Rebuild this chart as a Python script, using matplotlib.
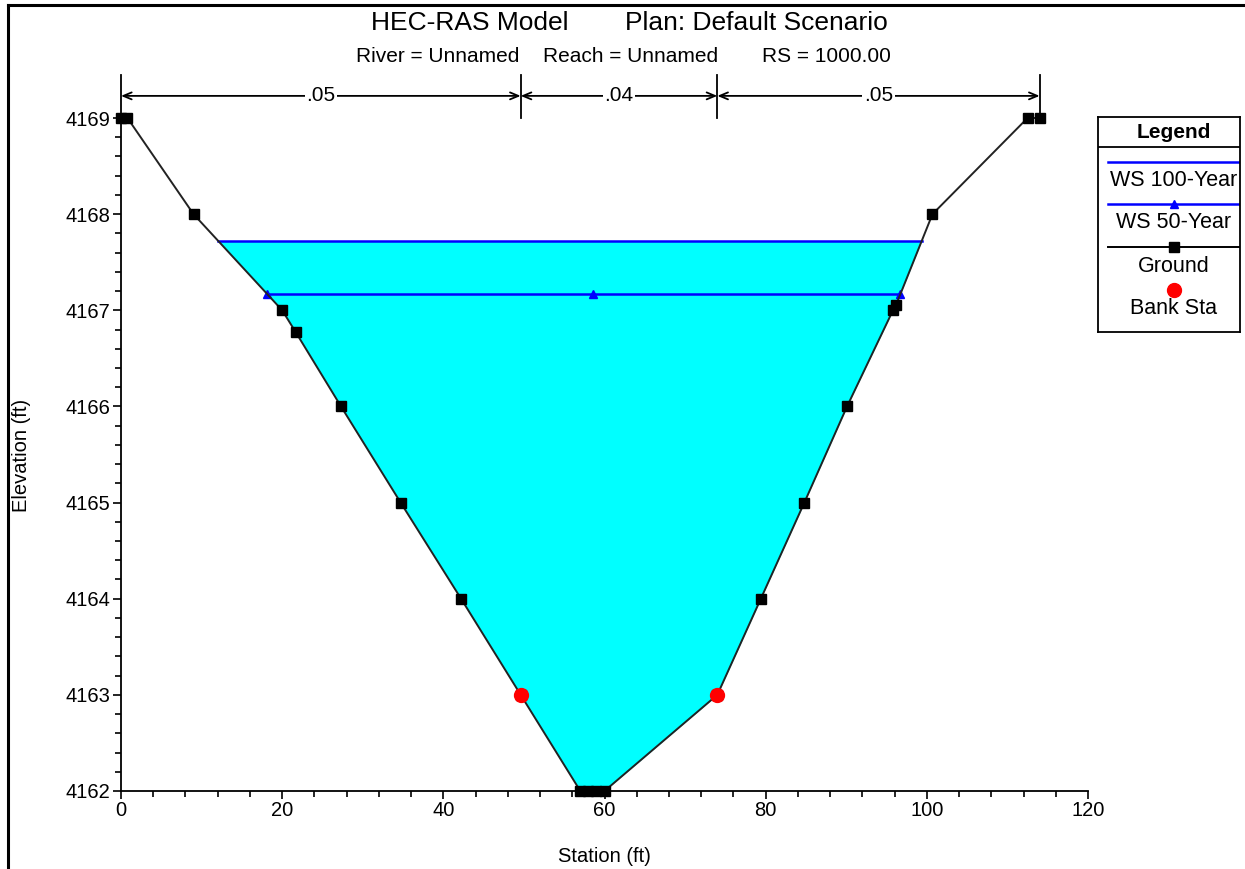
import numpy as np
import matplotlib.pyplot as plt
from matplotlib.lines import Line2D
from matplotlib.ticker import MultipleLocator

plt.rcParams['font.family'] = ['Liberation Sans', 'DejaVu Sans']

# ground profile (station ft, elevation ft)
sta = [0, 0.8, 9, 20, 21.7, 27.3, 34.7, 42.2, 49.6, 57, 58, 59, 60,
       74, 79.4, 84.8, 90.1, 95.8, 96.2, 100.7, 112.5, 114]
elev = [4169, 4169, 4168, 4167, 4166.77, 4166, 4165, 4164, 4163, 4162, 4162, 4162, 4162,
        4163, 4164, 4165, 4166, 4167, 4167.06, 4168, 4169, 4169]
bank_sta = [49.6, 74]
bank_elev = [4163, 4163]
ws100 = 4167.72
ws50 = 4167.17
ws50_marks = [18.1, 58.6, 96.7]
n_sta = [0, 49.6, 74, 114]
n_vals = ['.05', '.04', '.05']

W, H = 1245, 869
fig = plt.figure(figsize=(W / 100, H / 100), dpi=100)
ax = fig.add_axes([121 / W, (H - 791) / H, (1088 - 121) / W, (791 - 118) / H])

sta = np.array(sta)
elev = np.array(elev)
low = int(np.argmin(elev))
high = len(elev) - 1 - int(np.argmin(elev[::-1]))

def ws_edges(ws):
    left = np.interp(ws, elev[:low + 1][::-1], sta[:low + 1][::-1])
    right = np.interp(ws, elev[high:], sta[high:])
    return left, right

# water fill + surfaces
ax.fill_between(sta, elev, ws100, where=elev <= ws100, interpolate=True,
                color='#00ffff', lw=0, zorder=1)
l100, r100 = ws_edges(ws100)
ax.plot([l100, r100], [ws100, ws100], color='#0000ff', lw=1.8, zorder=2)
l50, r50 = ws_edges(ws50)
ax.plot([l50, r50], [ws50, ws50], color='#0000ff', lw=1.8, zorder=2)
ax.plot(ws50_marks, [ws50] * len(ws50_marks), ls='none', marker='^', ms=6,
        color='#0000ff', zorder=3)

# ground and bank stations
ax.plot(sta, elev, color='#222222', lw=1.4, marker='s', ms=6.5,
        mfc='black', mec='black', zorder=4, clip_on=False)
ax.plot(bank_sta, bank_elev, ls='none', marker='o', ms=10, color='#ff0000',
        zorder=5)

ax.set_xlim(0, 120)
ax.set_ylim(4162, 4169)
ax.xaxis.set_major_locator(MultipleLocator(20))
ax.xaxis.set_minor_locator(MultipleLocator(4))
ax.yaxis.set_major_locator(MultipleLocator(1))
ax.yaxis.set_minor_locator(MultipleLocator(0.2))
ax.tick_params(which='major', length=6, width=1.2, labelsize=14.5, pad=1.5)
ax.tick_params(which='minor', length=4.5, width=1.2)
ax.spines['top'].set_visible(False)
ax.spines['right'].set_visible(False)
ax.spines['left'].set_linewidth(1.3)
ax.spines['bottom'].set_linewidth(1.3)

# n-value dimension lines
y_top = 4169.45
y_arr = 4169.23
for s in n_sta:
    ax.plot([s, s], [4169, y_top], color='black', lw=1.3, clip_on=False)
for i, v in enumerate(n_vals):
    a, b = n_sta[i], n_sta[i + 1]
    ax.annotate('', xy=(a, y_arr), xytext=(b, y_arr), annotation_clip=False,
                arrowprops=dict(arrowstyle='<->,head_length=0.6,head_width=0.25',
                                color='black', lw=1.3, shrinkA=0, shrinkB=0))
    ax.text((a + b) / 2, y_arr, v, ha='center', va='center', fontsize=15,
            bbox=dict(facecolor='white', edgecolor='none', pad=1),
            clip_on=False)

# titles
fig.text(371 / W, 1 - 23 / H, 'HEC-RAS Model', ha='left', va='center', fontsize=19)
fig.text(625 / W, 1 - 23 / H, 'Plan: Default Scenario', ha='left', va='center', fontsize=19)
fig.text(356 / W, 1 - 57 / H, 'River = Unnamed', ha='left', va='center', fontsize=15)
fig.text(543 / W, 1 - 57 / H, 'Reach = Unnamed', ha='left', va='center', fontsize=15)
fig.text(762 / W, 1 - 57 / H, 'RS = 1000.00', ha='left', va='center', fontsize=15)
fig.text(604 / W, 1 - 857 / H, 'Station (ft)', ha='center', va='center', fontsize=14.5)
fig.text(22 / W, 1 - 455 / H, 'Elevation (ft)', ha='center', va='center',
         rotation=90, fontsize=14.5)

# legend box
lg = fig.add_axes([1098 / W, (H - 332) / H, (1240 - 1098) / W, (332 - 117) / H])
lg.set_xlim(0, 142)
lg.set_ylim(215, 0)
lg.set_xticks([])
lg.set_yticks([])
for sp in lg.spines.values():
    sp.set_linewidth(1.3)
lg.axhline(30, color='black', lw=1.3)
lg.text(76, 15, 'Legend', ha='center', va='center', fontsize=15, fontweight='bold')
lg.plot([10, 142], [45, 45], color='#0000ff', lw=1.8)
lg.text(76, 63, 'WS 100-Year', ha='center', va='center', fontsize=15.5)
lg.plot([10, 142], [87, 87], color='#0000ff', lw=1.8)
lg.plot([76], [87], marker='^', ms=6, color='#0000ff')
lg.text(76, 106, 'WS 50-Year', ha='center', va='center', fontsize=15.5)
lg.plot([10, 142], [130, 130], color='black', lw=1.4)
lg.plot([76], [130], marker='s', ms=6.5, color='black')
lg.text(76, 149, 'Ground', ha='center', va='center', fontsize=15.5)
lg.plot([76], [173], marker='o', ms=10, color='#ff0000')
lg.text(76, 192, 'Bank Sta', ha='center', va='center', fontsize=15.5)

# outer frame (left and top edges visible)
fig.add_artist(Line2D([8 / W, 8 / W], [0, 1 - 5 / H], color='black', lw=2.2))
fig.add_artist(Line2D([8 / W, 1], [1 - 5 / H, 1 - 5 / H], color='black', lw=2.2))

fig.savefig('out.png', dpi=100)
